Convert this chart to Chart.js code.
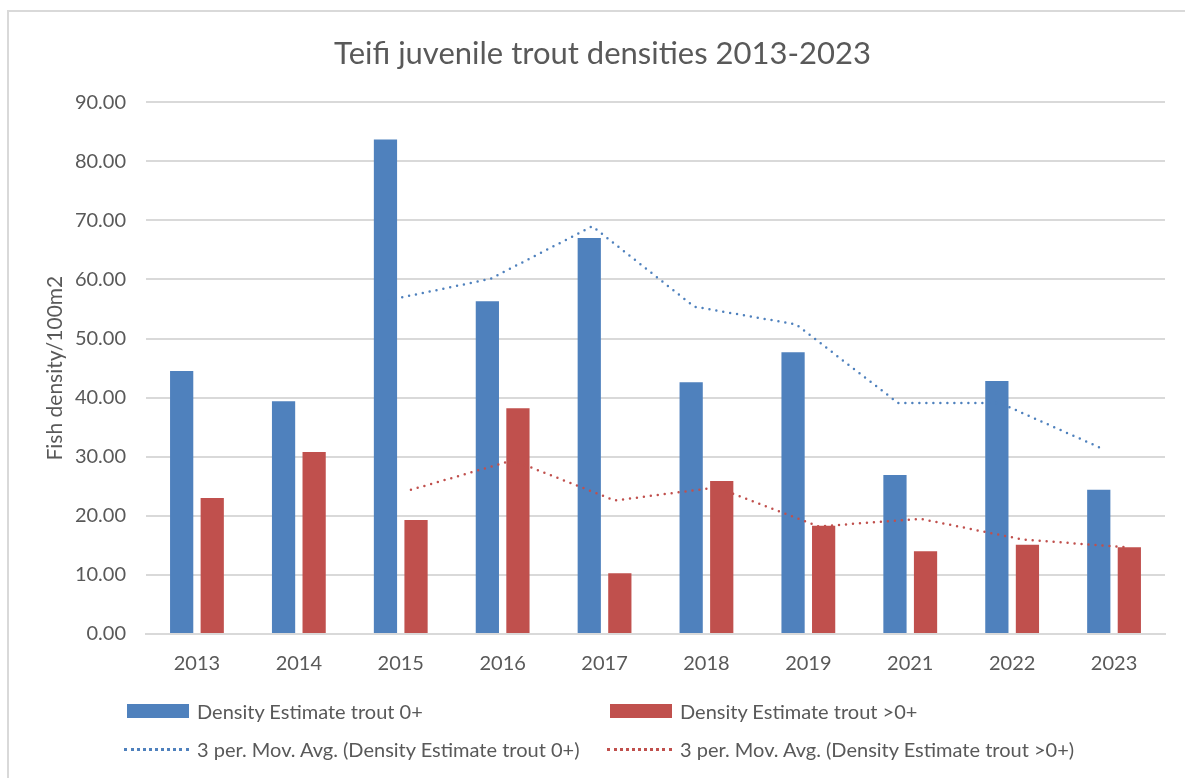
<!DOCTYPE html>
<html>
<head>
<meta charset="utf-8">
<script src="https://cdn.jsdelivr.net/npm/chart.js@4.4.1/dist/chart.umd.min.js"></script>
<style>
    body { margin: 0; background: #fff; font-family: Lato, sans-serif; }
    #frame {
        position: absolute; left: 7px; top: 10px; width: 1200px; height: 800px;
        border-left: 2px solid #d9d9d9; border-top: 2px solid #d9d9d9;
    }
    #wrap { position: absolute; left: 0; top: 0; width: 1185px; height: 708px; }
    #legend {
        position: absolute; left: 124px; top: 701px;
        display: grid; grid-template-columns: 483px 560px; row-gap: 18px;
        color: #595959; font-size: 20px;
    }
    .item { display: flex; align-items: center; height: 20px; }
    .box { width: 62px; height: 14px; margin-right: 8px; margin-left: 3px; }
    .dots { width: 65px; height: 0; margin-right: 8px; border-top: 3px dotted; }
</style>
</head>
<body>
<div id="frame"></div>
<div id="wrap"><canvas id="myChart"></canvas></div>
<div id="legend"></div>
<script>
let years = ['2013', '2014', '2015', '2016', '2017', '2018', '2019', '2021', '2022', '2023'];
let trout0 = [44.5, 39.4, 83.7, 56.3, 67.0, 42.6, 47.7, 26.9, 42.8, 24.4];
let troutOlder = [23.0, 30.8, 19.3, 38.2, 10.3, 25.9, 18.3, 14.0, 15.1, 14.7];
// moving averages as drawn in the picture (start at the third year)
let avg0 = [null, null, 56.5, 60.1, 69.0, 55.4, 52.4, 39.1, 39.1, 31.4];
let avgOlder = [null, null, 24.4, 29.4, 22.6, 24.8, 18.2, 19.5, 16.0, 14.7];
let yTicks = [0, 10, 20, 30, 40, 50, 60, 70, 80, 90];

const blue = '#4f81bd';
const red = '#c0504d';
const grey = '#595959';

// moves the trend lines next to their own bar instead of the category centre
const shiftLines = {
    id: 'shiftLines',
    afterDatasetsUpdate(chart) {
        const step = chart.scales.x.width / years.length;
        chart.data.datasets.forEach((ds, i) => {
            if (ds.type !== 'line') return;
            chart.getDatasetMeta(i).data.forEach(pt => { pt.x += ds.shift * step; });
        });
    }
};

function buildLegend(chart) {
    const legend = document.getElementById('legend');
    chart.data.datasets.forEach(ds => {
        const item = document.createElement('div');
        item.className = 'item';
        const sample = document.createElement('span');
        if (ds.type === 'line') {
            sample.className = 'dots';
            sample.style.borderColor = ds.borderColor;
        } else {
            sample.className = 'box';
            sample.style.background = ds.backgroundColor;
        }
        const text = document.createElement('span');
        text.textContent = ds.label;
        item.appendChild(sample);
        item.appendChild(text);
        legend.appendChild(item);
    });
}

document.addEventListener('DOMContentLoaded', function () {
    Chart.defaults.font.family = 'Lato, sans-serif';
    Chart.defaults.color = grey;

    const ctx = document.getElementById('myChart');
    const myChart = new Chart(ctx, {
        type: 'bar',
        data: {
            labels: years,
            datasets: [
                {
                    label: 'Density Estimate trout 0+',
                    data: trout0,
                    backgroundColor: blue,
                    categoryPercentage: 0.6,
                    barPercentage: 0.76,
                    order: 2
                },
                {
                    label: 'Density Estimate trout >0+',
                    data: troutOlder,
                    backgroundColor: red,
                    categoryPercentage: 0.6,
                    barPercentage: 0.76,
                    order: 2
                },
                {
                    type: 'line',
                    label: '3 per. Mov. Avg. (Density Estimate trout 0+)',
                    data: avg0,
                    shift: -0.12,
                    borderColor: blue,
                    borderWidth: 2.5,
                    borderDash: [0, 7],
                    borderCapStyle: 'round',
                    pointRadius: 0,
                    tension: 0,
                    order: 1
                },
                {
                    type: 'line',
                    label: '3 per. Mov. Avg. (Density Estimate trout >0+)',
                    data: avgOlder,
                    shift: 0.1,
                    borderColor: red,
                    borderWidth: 2.5,
                    borderDash: [0, 7],
                    borderCapStyle: 'round',
                    pointRadius: 0,
                    tension: 0,
                    order: 1
                }
            ]
        },
        options: {
            responsive: true,
            maintainAspectRatio: false,
            animation: false,
            layout: { padding: { left: 40, right: 20, top: 22, bottom: 14 } },
            plugins: {
                legend: { display: false },
                tooltip: { enabled: false },
                title: {
                    display: true,
                    text: 'Teifi juvenile trout densities 2013-2023',
                    color: grey,
                    font: { size: 31, weight: 'normal' },
                    padding: { top: 13, bottom: 30 }
                }
            },
            scales: {
                x: {
                    grid: { display: false, drawTicks: false },
                    border: { color: '#d9d9d9', width: 2 },
                    ticks: { font: { size: 20 }, padding: 18, color: grey }
                },
                y: {
                    min: 0,
                    max: 90,
                    afterBuildTicks: scale => { scale.ticks = yTicks.map(v => ({ value: v })); },
                    afterFit: scale => { scale.width = 106; },
                    grid: { color: '#d9d9d9', lineWidth: 2, drawTicks: false },
                    border: { display: false },
                    ticks: {
                        font: { size: 20 },
                        padding: 20,
                        color: grey,
                        callback: v => Number(v).toFixed(2)
                    },
                    title: {
                        display: true,
                        text: 'Fish density/100m2',
                        color: grey,
                        font: { size: 21 },
                        padding: { top: 3, bottom: 6 }
                    }
                }
            }
        },
        plugins: [shiftLines]
    });

    buildLegend(myChart);
});
</script>
</body>
</html>
